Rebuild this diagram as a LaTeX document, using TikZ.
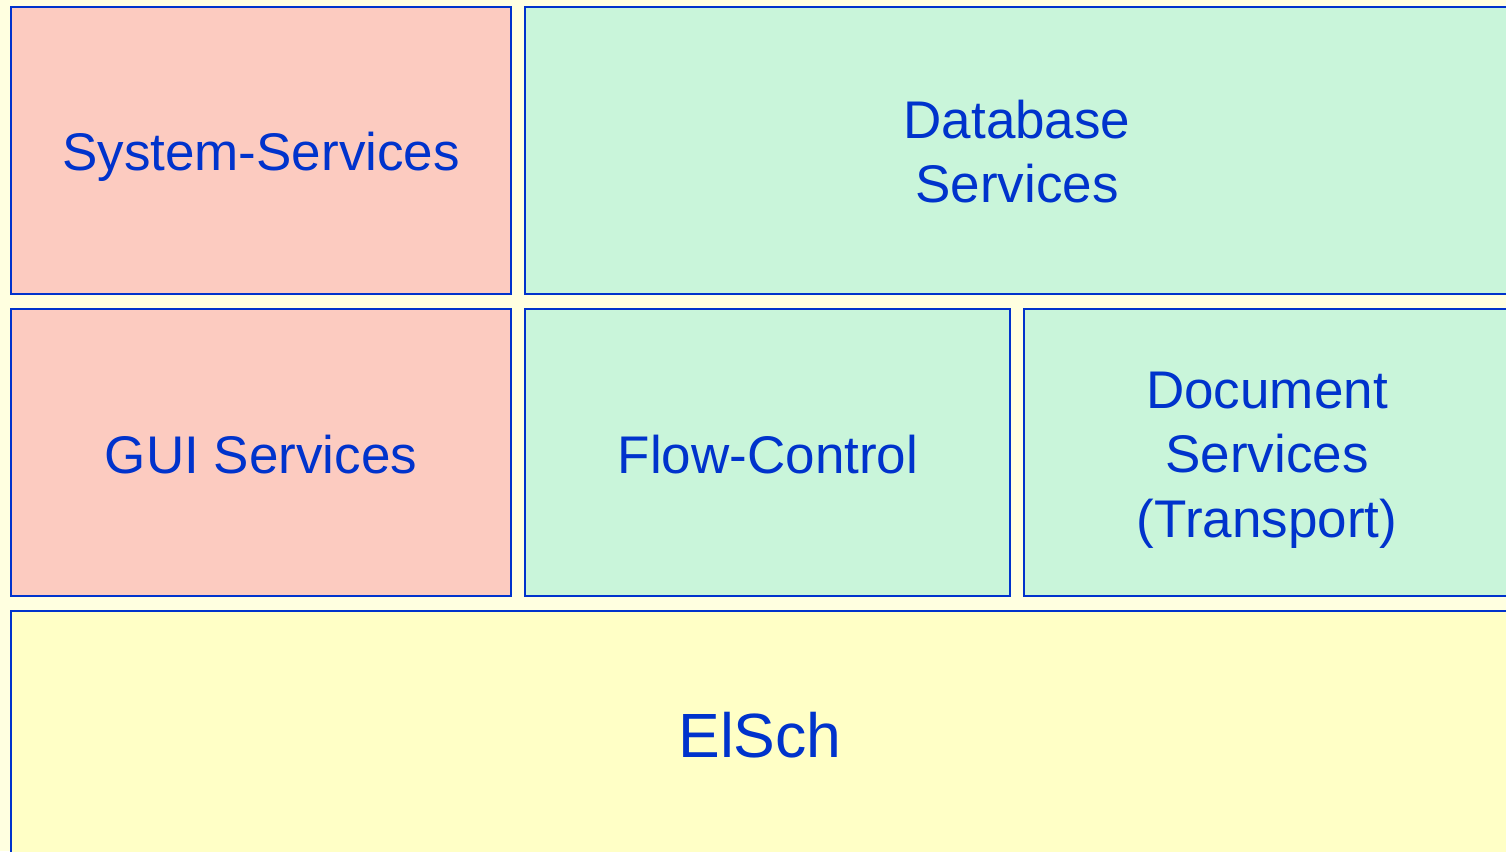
\documentclass[tikz,border=0pt]{standalone}
\usepackage{fontspec}
\setmainfont{Liberation Sans}
\definecolor{bg}{HTML}{FFFFE0}
\definecolor{pinkfill}{HTML}{FCCBC0}
\definecolor{greenfill}{HTML}{C9F5DA}
\definecolor{yellowfill}{HTML}{FFFFC6}
\definecolor{edge}{HTML}{0033CC}
\tikzset{
  layer/.style={draw=edge, line width=2pt, inner sep=0pt},
  caption/.style={text=edge, align=center, inner sep=0pt, font=\fontsize{53}{64.5}\selectfont},
}
\begin{document}
\begin{tikzpicture}[x=1pt,y=-1pt]
\useasboundingbox[fill=bg] (0,0) rectangle (1506,851);
\clip (0,0) rectangle (1506,851);
\node[layer, fill=pinkfill, minimum width=500pt, minimum height=287pt] (sys) at (261,150.5) {};
\node[layer, fill=greenfill, minimum width=984pt, minimum height=287pt] (db) at (1017,150.5) {};
\node[layer, fill=pinkfill, minimum width=500pt, minimum height=287pt] (gui) at (261,452.5) {};
\node[layer, fill=greenfill, minimum width=485pt, minimum height=287pt] (flow) at (767.5,452.5) {};
\node[layer, fill=greenfill, minimum width=486pt, minimum height=287pt] (doc) at (1267,452.5) {};
\node[layer, fill=yellowfill, minimum width=1498pt, minimum height=300pt] (elsch) at (760,761) {};
\node[caption] (syst) at (261,156.5) {System-Services};
\node[caption] (dbt) at (1017,151.5) {Database\\Services};
\node[caption] (guit) at (261,455) {GUI Services};
\node[caption] (flowt) at (768,455) {Flow-Control};
\node[caption] (doct) at (1267,460) {Document\\Services\\(Transport)};
\node[caption, font=\fontsize{62.5}{74}\selectfont] (elscht) at (760,735) {ElSch};
\end{tikzpicture}
\end{document}
